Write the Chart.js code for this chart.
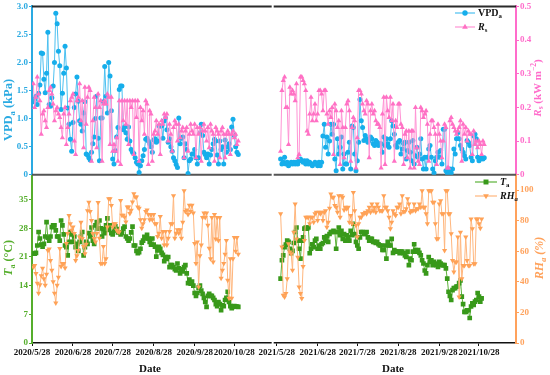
<!DOCTYPE html>
<html>
<head>
<meta charset="utf-8">
<script src="https://cdn.jsdelivr.net/npm/chart.js@4.4.1/dist/chart.umd.min.js"></script>
<style>
  html, body { margin: 0; padding: 0; background: #fff; }
  #wrap { width: 550px; height: 375px; }
</style>
</head>
<body>
<div id="wrap"><canvas id="chart" width="550" height="375"></canvas></div>
<script>
// daily values, 2020 series start on 2020/5/29, 2021 series on 2021/5/31
const first2020 = 1;     // days after 2020/5/28
const first2021 = 3;     // days after 2021/5/28
const axis2021 = 185;    // where 2021/5/28 sits on the broken date axis
const breakDay = 182;

const vpd2020 = [
  1.30, 1.35, 1.40, 1.25, 1.45, 1.60, 2.17, 2.16, 1.70, 1.46,
  1.81, 2.54, 1.25, 1.22, 1.37, 1.58, 2.00, 2.88, 2.69, 2.20,
  1.94, 1.16, 1.45, 1.81, 2.29, 1.90, 1.19, 0.90, 0.63, 0.42,
  0.93, 1.20, 1.44, 1.74, 1.31, 0.96, 0.90, 0.78, 1.10, 1.30,
  0.37, 0.35, 0.30, 0.26, 0.40, 0.55, 0.67, 1.00, 1.40, 0.65,
  0.25, 1.01, 1.01, 1.30, 1.93, 1.40, 1.10, 2.00, 1.76, 1.14,
  0.28, 0.19, 0.43, 0.67, 0.84, 1.52, 1.58, 1.58, 0.80, 0.85,
  0.75, 0.63, 0.85, 0.60, 0.45, 0.40, 0.38, 0.30, 0.22, 0.19,
  0.04, 0.16, 0.25, 0.34, 0.45, 0.63, 0.65, 0.60, 0.55, 0.50,
  0.40, 0.62, 0.64, 0.58, 0.60, 0.87, 0.87, 0.87, 0.65, 0.96,
  1.01, 0.80, 0.58, 0.64, 0.50, 0.42, 0.30, 0.25, 0.18, 0.13,
  1.01, 0.55, 0.65, 0.67, 0.30, 0.55, 0.45, 0.02, 0.25, 0.28,
  0.37, 0.37, 0.45, 0.30, 0.19, 0.30, 0.75, 0.90, 0.70, 0.40,
  0.36, 0.30, 0.37, 0.19, 0.35, 0.45, 0.55, 0.63, 0.60, 0.35,
  0.19, 0.60, 0.45, 0.50, 0.19, 0.62, 0.40, 0.50, 0.55, 0.45,
  0.85, 0.99, 0.70, 0.50, 0.40, 0.36
];
const rs2020 = [
  0.27, 0.20, 0.23, 0.29, 0.24, 0.22, 0.12, 0.18, 0.19, 0.16,
  0.14, 0.20, 0.25, 0.26, 0.24, 0.21, 0.16, 0.19, 0.20, 0.18,
  0.17, 0.14, 0.11, 0.18, 0.20, 0.09, 0.14, 0.18, 0.22, 0.23,
  0.24, 0.10, 0.06, 0.22, 0.23, 0.27, 0.16, 0.22, 0.08, 0.26,
  0.15, 0.23, 0.26, 0.25, 0.04, 0.16, 0.23, 0.20, 0.08, 0.24,
  0.20, 0.22, 0.04, 0.21, 0.22, 0.21, 0.24, 0.23, 0.09, 0.23,
  0.07, 0.09, 0.07, 0.11, 0.04, 0.22, 0.03, 0.22, 0.16, 0.22,
  0.15, 0.22, 0.09, 0.22, 0.20, 0.22, 0.06, 0.22, 0.17, 0.22,
  0.04, 0.20, 0.16, 0.19, 0.12, 0.22, 0.21, 0.03, 0.19, 0.18,
  0.04, 0.12, 0.13, 0.16, 0.12, 0.15, 0.06, 0.16, 0.15, 0.18,
  0.17, 0.18, 0.10, 0.15, 0.12, 0.07, 0.14, 0.16, 0.15, 0.10,
  0.15, 0.11, 0.13, 0.14, 0.05, 0.13, 0.14, 0.07, 0.12, 0.15,
  0.13, 0.12, 0.15, 0.05, 0.14, 0.12, 0.14, 0.04, 0.13, 0.15,
  0.13, 0.10, 0.14, 0.08, 0.15, 0.13, 0.12, 0.04, 0.14, 0.13,
  0.12, 0.05, 0.13, 0.14, 0.12, 0.05, 0.12, 0.13, 0.12, 0.06,
  0.12, 0.13, 0.11, 0.12, 0.09, 0.10
];
const ta2020 = [
  21.8, 21.8, 22.0, 23.8, 27.1, 25.5, 24.0, 23.5, 24.2, 26.0,
  29.5, 25.7, 25.0, 26.0, 28.3, 28.7, 28.7, 27.5, 26.0, 26.0,
  25.0, 29.9, 28.7, 26.5, 23.8, 23.4, 21.4, 24.7, 27.1, 26.5,
  24.7, 26.0, 23.4, 24.2, 22.5, 24.7, 26.0, 27.1, 21.4, 23.4,
  24.7, 24.2, 26.8, 26.0, 28.2, 25.0, 24.2, 28.7, 29.5, 27.9,
  29.9, 28.0, 26.0, 27.8, 26.8, 28.7, 30.4, 27.6, 28.7, 26.8,
  26.5, 27.5, 28.5, 27.8, 27.0, 27.0, 26.5, 26.9, 27.9, 28.4,
  26.0, 25.5, 25.0, 25.5, 27.0, 28.4, 23.8, 23.8, 22.5, 21.9,
  22.2, 23.0, 24.5, 25.0, 25.9, 25.5, 26.4, 25.5, 24.7, 24.0,
  25.5, 24.0, 23.5, 21.1, 22.6, 23.5, 23.0, 22.0, 21.5, 20.0,
  21.0, 20.5, 21.0, 18.5, 19.0, 19.0, 18.5, 18.0, 17.7, 19.4,
  18.2, 17.0, 18.0, 17.5, 18.5, 19.0, 17.0, 14.6, 15.5, 14.5,
  15.0, 14.0, 12.2, 11.5, 12.2, 13.5, 14.0, 12.8, 12.0, 11.0,
  10.0, 8.8, 11.5, 12.0, 11.5, 11.5, 11.0, 10.5, 9.5, 9.0,
  10.0, 9.5, 8.0, 9.2, 9.0, 10.5, 11.0, 12.5, 10.0, 9.0,
  8.5, 8.8, 9.0, 8.9, 8.9, 8.8
];
const rh2020 = [
  49.6, 50.7, 45.5, 39.0, 32.5, 38.0, 44.0, 48.8, 42.0, 37.7,
  45.0, 60.5, 61.5, 54.0, 47.5, 40.0, 32.5, 26.2, 37.7, 43.0,
  61.8, 50.0, 52.0, 52.0, 49.0, 65.0, 71.5, 83.3, 78.0, 73.7,
  75.8, 71.5, 54.0, 57.0, 60.5, 69.2, 79.0, 68.3, 63.0, 58.4,
  64.5, 86.5, 92.0, 86.0, 80.0, 71.5, 68.3, 66.0, 71.5, 91.8,
  68.5, 52.0, 52.0, 63.0, 52.0, 55.0, 75.8, 94.3, 94.3, 89.9,
  75.8, 78.0, 78.0, 73.7, 72.6, 72.6, 93.2, 83.5, 83.5, 82.4,
  79.1, 88.9, 88.9, 84.6, 86.7, 92.2, 97.6, 95.4, 95.4, 88.9,
  88.0, 80.5, 75.0, 78.0, 80.5, 86.0, 87.0, 84.0, 80.5, 84.0,
  80.5, 84.0, 78.0, 78.0, 69.6, 71.8, 82.6, 68.5, 72.8, 64.0,
  72.8, 64.0, 68.5, 72.8, 78.0, 78.0, 96.3, 68.5, 71.8, 74.0,
  71.8, 74.0, 68.5, 79.0, 99.5, 86.0, 87.0, 84.0, 90.0, 86.0,
  90.0, 85.0, 65.0, 52.0, 66.0, 36.6, 57.0, 64.0, 82.0, 85.0,
  82.0, 85.0, 77.0, 62.0, 55.0, 82.0, 53.0, 84.0, 68.0, 82.0,
  67.0, 82.0, 42.3, 47.5, 52.0, 58.0, 67.0, 41.0, 29.3, 55.0,
  29.3, 55.0, 69.0, 60.0, 69.0, 58.0
];

const vpd2021 = [
  0.28, 0.19, 0.22, 0.31, 0.19, 0.22, 0.16, 0.19, 0.22, 0.19,
  0.22, 0.19, 0.22, 0.19, 0.25, 0.28, 0.25, 0.22, 0.25, 0.19,
  0.25, 0.19, 0.22, 0.19, 0.16, 0.19, 0.22, 0.19, 0.16, 0.22,
  0.16, 0.22, 0.69, 0.90, 0.49, 0.67, 0.37, 0.60, 0.90, 0.72,
  0.90, 0.28, 0.07, 0.64, 0.37, 0.49, 0.67, 0.10, 0.37, 0.19,
  0.19, 0.40, 0.58, 0.10, 0.87, 0.84, 0.37, 0.07, 0.25, 0.58,
  1.34, 0.96, 0.84, 0.61, 0.70, 0.64, 0.58, 0.61, 0.67, 0.64,
  0.55, 0.52, 0.61, 0.58, 0.52, 0.55, 0.55, 0.40, 0.67, 0.52,
  0.64, 0.55, 0.49, 0.64, 0.96, 0.87, 0.72, 0.52, 0.49, 0.58,
  0.61, 0.37, 0.46, 0.55, 0.58, 0.28, 0.43, 0.58, 0.40, 0.25,
  0.61, 0.19, 0.34, 0.49, 0.31, 0.37, 0.64, 0.28, 0.10, 0.31,
  0.10, 0.31, 0.46, 0.52, 0.31, 0.10, 0.03, 0.25, 0.31, 0.40,
  0.31, 0.43, 0.19, 0.81, 0.81, 0.07, 0.03, 0.07, 0.10, 0.03,
  0.10, 0.46, 0.37, 0.64, 0.75, 0.64, 0.52, 0.46, 0.40, 0.34,
  0.28, 0.61, 0.58, 0.52, 0.31, 0.25, 0.69, 0.72, 0.64, 0.31,
  0.25, 0.28, 0.31, 0.28, 0.30
];
const rs2021 = [
  0.07, 0.25, 0.28, 0.29, 0.20, 0.20, 0.09, 0.26, 0.24, 0.25,
  0.24, 0.22, 0.27, 0.05, 0.06, 0.29, 0.29, 0.28, 0.27, 0.25,
  0.13, 0.12, 0.18, 0.23, 0.16, 0.18, 0.21, 0.16, 0.18, 0.25,
  0.25, 0.24, 0.19, 0.25, 0.25, 0.18, 0.15, 0.19, 0.17, 0.20,
  0.06, 0.21, 0.19, 0.14, 0.16, 0.03, 0.19, 0.14, 0.05, 0.14,
  0.21, 0.22, 0.19, 0.04, 0.14, 0.17, 0.16, 0.02, 0.11, 0.25,
  0.25, 0.24, 0.21, 0.19, 0.18, 0.22, 0.21, 0.05, 0.19, 0.21,
  0.18, 0.19, 0.16, 0.15, 0.15, 0.14, 0.02, 0.18, 0.23, 0.03,
  0.23, 0.19, 0.17, 0.23, 0.16, 0.21, 0.04, 0.16, 0.14, 0.21,
  0.21, 0.15, 0.14, 0.03, 0.12, 0.13, 0.05, 0.13, 0.02, 0.13,
  0.13, 0.02, 0.20, 0.08, 0.04, 0.03, 0.20, 0.19, 0.17, 0.18,
  0.19, 0.15, 0.04, 0.12, 0.16, 0.16, 0.14, 0.12, 0.03, 0.15,
  0.12, 0.10, 0.05, 0.10, 0.15, 0.14, 0.02, 0.02, 0.16, 0.17,
  0.15, 0.14, 0.13, 0.12, 0.13, 0.14, 0.16, 0.04, 0.15, 0.12,
  0.14, 0.10, 0.13, 0.12, 0.12, 0.06, 0.13, 0.09, 0.10, 0.08,
  0.10, 0.09, 0.06, 0.10, 0.09
];
const ta2021 = [
  15.7, 20.2, 21.4, 23.4, 24.0, 25.0, 24.7, 23.0, 21.9, 22.5,
  24.4, 27.1, 28.2, 25.0, 23.0, 20.6, 25.0, 25.8, 27.9, 28.2,
  27.9, 28.2, 21.9, 23.0, 24.1, 23.4, 25.0, 25.4, 23.0, 23.8,
  23.0, 24.1, 24.4, 25.8, 25.0, 26.1, 24.7, 26.6, 27.1, 27.1,
  27.4, 27.1, 23.0, 27.1, 28.2, 26.3, 27.4, 25.4, 26.6, 25.0,
  26.3, 25.8, 25.0, 27.4, 26.3, 29.1, 26.6, 24.7, 23.8, 23.0,
  25.8, 27.1, 27.1, 26.6, 26.6, 27.1, 25.8, 25.0, 25.4, 25.4,
  24.7, 24.7, 24.4, 24.7, 24.1, 23.8, 23.8, 22.7, 22.7, 23.8,
  20.6, 24.7, 23.8, 23.8, 25.4, 22.0, 22.7, 22.3, 22.3, 22.3,
  21.9, 22.3, 22.3, 21.9, 21.4, 21.0, 22.3, 19.0, 20.6, 20.2,
  22.3, 24.1, 22.7, 22.3, 22.7, 22.0, 21.4, 20.2, 19.4, 17.7,
  17.0, 19.0, 21.0, 19.8, 20.2, 19.0, 19.8, 19.4, 19.0, 18.6,
  19.8, 19.4, 19.0, 19.0, 19.0, 18.2, 15.7, 12.5, 11.5, 10.5,
  12.9, 13.4, 13.4, 13.8, 13.8, 14.6, 15.3, 11.3, 9.5, 7.6,
  7.6, 8.0, 8.0, 6.1, 8.9, 9.7, 9.3, 10.1, 10.5, 12.2,
  11.3, 10.1, 10.9
];
const rh2021 = [
  84.4, 62.7, 31.2, 30.0, 32.3, 42.0, 64.9, 59.4, 58.4, 47.5,
  72.4, 90.9, 68.0, 56.0, 36.6, 32.3, 29.1, 50.0, 67.0, 82.2,
  82.2, 82.2, 78.0, 82.2, 82.2, 79.0, 84.4, 85.5, 80.0, 85.5,
  84.4, 85.5, 80.0, 85.5, 86.5, 75.7, 79.0, 88.0, 97.4, 95.3,
  95.3, 89.9, 88.8, 85.5, 96.3, 82.2, 96.3, 95.3, 87.0, 88.8,
  87.7, 88.8, 79.0, 83.3, 78.0, 98.4, 86.5, 76.8, 69.2, 77.9,
  82.2, 82.2, 84.4, 84.4, 85.5, 84.4, 86.5, 88.8, 85.5, 90.9,
  86.5, 88.8, 85.5, 90.9, 88.8, 86.5, 86.5, 86.5, 96.3, 88.8,
  88.8, 86.5, 82.2, 74.6, 79.0, 86.5, 84.4, 83.3, 88.7, 88.7,
  90.9, 84.4, 96.3, 86.0, 86.0, 87.7, 94.2, 90.9, 85.5, 86.5,
  86.5, 90.9, 86.5, 87.7, 87.7, 90.9, 88.8, 99.5, 88.8, 88.8,
  84.4, 77.9, 99.5, 99.5, 99.5, 92.0, 92.0, 77.9, 68.1, 68.1,
  90.9, 93.0, 84.4, 84.4, 60.5, 99.5, 99.5, 84.4, 84.4, 71.4,
  54.0, 46.4, 52.9, 52.9, 69.2, 30.0, 72.4, 42.0, 50.7, 50.7,
  69.2, 54.0, 50.7, 50.7, 81.1, 74.6, 51.8, 51.8, 81.1, 81.1,
  78.0, 75.0, 81.0
];

const xTickDays = [0, 31, 61, 92, 123, 153, 185, 216, 246, 277, 308, 338];
const xTickLabels = ['2020/5/28', '2020/6/28', '2020/7/28', '2020/8/28', '2020/9/28', '2020/10/28',
                     '2021/5/28', '2021/6/28', '2021/7/28', '2021/8/28', '2021/9/28', '2021/10/28'];
const taTicks = [0, 7, 14, 21, 28, 35];
const rhTicks = [0, 20, 40, 60, 80, 100];

const colors = {
    vpd: '#16AEEB', vpdLine: '#4CC0F0',
    rs: '#FF70C4', rsLine: '#FF93D4',
    ta: '#38991A', taLine: '#5DB23A',
    rh: '#FFA257', rhLine: '#FFB67D',
    vpdAxis: '#2AAAE2',
    rsAxis: '#FF6CCB',
    taAxis: '#55AE2C',
    rhAxis: '#FFA25C',
};
const serif = "'Liberation Serif', 'Times New Roman', serif";

// one dataset per variable, null point breaks the line across the gap
function toSeries(v2020, v2021) {
    const pts = v2020.map((v, i) => ({ x: first2020 + i, y: v }));
    pts.push({ x: breakDay, y: null });
    v2021.forEach((v, i) => pts.push({ x: axis2021 + first2021 + i, y: v }));
    return pts;
}

function yAxis(position, stack, color, min, max, extra) {
    return Object.assign({
        type: 'linear',
        position: position,
        stack: stack,
        stackWeight: 1,
        min: min,
        max: max,
        border: { display: true, color: color, width: 2 },
        grid: { drawOnChartArea: false, drawTicks: true, tickLength: 3, color: color, lineWidth: 1 },
        ticks: { color: color, font: { family: serif, size: 9, weight: 'bold' }, padding: 1 },
        afterFit: (scale) => { scale.width = position === 'left' ? 32 : 34; },
    }, extra);
}

// rich text with italic / subscript / superscript pieces
function drawRich(ctx, parts, x, y, size, color, rotate, align) {
    ctx.save();
    ctx.translate(x, y);
    if (rotate) ctx.rotate(rotate);
    ctx.fillStyle = color;
    ctx.textBaseline = 'middle';
    ctx.textAlign = 'left';
    const fontFor = (p) => {
        const s = (p.sub || p.sup) ? size * 0.68 : size;
        return (p.italic ? 'italic ' : '') + 'bold ' + s + 'px ' + serif;
    };
    let total = 0;
    parts.forEach(p => { ctx.font = fontFor(p); total += ctx.measureText(p.t).width; });
    let cx = align === 'left' ? 0 : -total / 2;
    parts.forEach(p => {
        ctx.font = fontFor(p);
        const dy = p.sub ? size * 0.3 : (p.sup ? -size * 0.35 : 0);
        ctx.fillText(p.t, cx, dy);
        cx += ctx.measureText(p.t).width;
    });
    ctx.restore();
}

function drawMarker(ctx, style, x, y, r, color) {
    ctx.save();
    ctx.fillStyle = color;
    ctx.beginPath();
    if (style === 'circle') {
        ctx.arc(x, y, r, 0, Math.PI * 2);
    } else if (style === 'rect') {
        const s = r * Math.SQRT1_2;
        ctx.rect(x - s, y - s, 2 * s, 2 * s);
    } else if (style === 'triangle' || style === 'triangleDown') {
        const d = style === 'triangle' ? 1 : -1;
        ctx.moveTo(x, y - d * r);
        ctx.lineTo(x + r * 0.866, y + d * r * 0.5);
        ctx.lineTo(x - r * 0.866, y + d * r * 0.5);
        ctx.closePath();
    }
    ctx.fill();
    ctx.restore();
}

const legendItems = [
    { color: colors.vpd, line: colors.vpdLine, marker: 'circle', r: 2.7, x1: 455, x2: 475, y: 13, tx: 478, parts: [{ t: 'VPD' }, { t: 'a', sub: true }] },
    { color: colors.rs, line: colors.rsLine, marker: 'triangle', r: 3.3, x1: 455, x2: 475, y: 27, tx: 478, parts: [{ t: 'R', italic: true }, { t: 's', sub: true }] },
    { color: colors.ta, line: colors.taLine, marker: 'rect', r: 3.5, x1: 475, x2: 497, y: 182, tx: 500, parts: [{ t: 'T', italic: true }, { t: 'a', sub: true }] },
    { color: colors.rh, line: colors.rhLine, marker: 'triangleDown', r: 3.3, x1: 475, x2: 497, y: 196, tx: 500, parts: [{ t: 'RH', italic: true }, { t: 'a', sub: true, italic: true }] },
];

const framePlugin = {
    id: 'frame',
    beforeDatasetsDraw(chart) {
        const { ctx, chartArea, scales } = chart;
        const top = scales.yVPD.top;
        const mid = scales.yVPD.bottom;
        ctx.save();
        ctx.strokeStyle = '#2a2a2a';
        ctx.lineWidth = 2;
        ctx.beginPath();
        ctx.moveTo(chartArea.left, top);
        ctx.lineTo(chartArea.right, top);
        ctx.stroke();
        ctx.strokeStyle = '#555';
        ctx.beginPath();
        ctx.moveTo(chartArea.left, mid);
        ctx.lineTo(chartArea.right, mid);
        ctx.stroke();
        // axis break
        const bx = scales.x.getPixelForValue(breakDay);
        ctx.fillStyle = '#fff';
        [top, mid, scales.x.top].forEach(y => ctx.fillRect(bx - 1, y - 2, 2, 4));
        ctx.restore();
    },
    afterDraw(chart) {
        const { ctx } = chart;
        // axis titles
        drawRich(ctx, [{ t: 'VPD' }, { t: 'a', sub: true }, { t: ' (kPa)' }], 9, 110, 12.5, colors.vpdAxis, -Math.PI / 2);
        drawRich(ctx, [{ t: 'R', italic: true }, { t: 's', sub: true }, { t: ' (kW m' }, { t: '−2', sup: true }, { t: ')' }], 538, 88, 11, colors.rsAxis, -Math.PI / 2);
        drawRich(ctx, [{ t: 'T', italic: true }, { t: 'a', sub: true }, { t: ' (°C)' }], 9, 258, 12, colors.taAxis, -Math.PI / 2);
        drawRich(ctx, [{ t: 'RH', italic: true }, { t: 'a', sub: true, italic: true }, { t: ' (%)', italic: true }], 540, 258, 12, colors.rhAxis, -Math.PI / 2);
        drawRich(ctx, [{ t: 'Date' }], 150, 369, 11, '#111');
        drawRich(ctx, [{ t: 'Date' }], 393, 369, 11, '#111');
        // legends
        legendItems.forEach(it => {
            ctx.save();
            ctx.strokeStyle = it.line;
            ctx.lineWidth = 1.2;
            ctx.beginPath();
            ctx.moveTo(it.x1, it.y);
            ctx.lineTo(it.x2, it.y);
            ctx.stroke();
            ctx.restore();
            drawMarker(ctx, it.marker, (it.x1 + it.x2) / 2, it.y, it.r, it.color);
            drawRich(ctx, it.parts, it.tx, it.y, 10, '#111', 0, 'left');
        });
    }
};

const lineStyle = (line, color, style, radius, rotation) => ({
    borderColor: line,
    backgroundColor: color,
    borderWidth: 1,
    pointStyle: style,
    pointRadius: radius,
    pointRotation: rotation || 0,
    pointBorderWidth: 0,
    pointBackgroundColor: color,
    tension: 0,
    spanGaps: false,
});

new Chart(document.getElementById('chart'), {
    type: 'line',
    data: {
        datasets: [
            Object.assign({ label: 'Rs', data: toSeries(rs2020, rs2021), yAxisID: 'yRs' }, lineStyle(colors.rsLine, colors.rs, 'triangle', 3.0)),
            Object.assign({ label: 'VPDa', data: toSeries(vpd2020, vpd2021), yAxisID: 'yVPD' }, lineStyle(colors.vpdLine, colors.vpd, 'circle', 2.5)),
            Object.assign({ label: 'RHa', data: toSeries(rh2020, rh2021), yAxisID: 'yRH' }, lineStyle(colors.rhLine, colors.rh, 'triangle', 3.0, 180)),
            Object.assign({ label: 'Ta', data: toSeries(ta2020, ta2021), yAxisID: 'yT' }, lineStyle(colors.taLine, colors.ta, 'rect', 3.3)),
        ],
    },
    options: {
        responsive: false,
        animation: false,
        layout: { padding: { top: 5, left: 0, right: 0, bottom: 0 } },
        plugins: { legend: { display: false }, tooltip: { enabled: false } },
        scales: {
            x: {
                type: 'linear',
                position: 'bottom',
                min: 0,
                max: 366,
                border: { display: true, color: '#111', width: 1.5 },
                grid: { drawOnChartArea: false, drawTicks: true, tickLength: 3, color: '#111' },
                afterBuildTicks: (scale) => { scale.ticks = xTickDays.map(v => ({ value: v })); },
                ticks: {
                    autoSkip: false, maxRotation: 0, minRotation: 0, padding: 1, color: '#111',
                    font: { family: serif, size: 9, weight: 'bold' },
                    callback: (value, index) => xTickLabels[index],
                },
                afterFit: (scale) => { scale.height = 32; },
            },
            yT: yAxis('left', 'left', colors.taAxis, 0, 41.08, {
                afterBuildTicks: (scale) => { scale.ticks = taTicks.map(v => ({ value: v })); },
            }),
            yVPD: yAxis('left', 'left', colors.vpdAxis, 0, 3.0, {}),
            yRs: yAxis('right', 'right', colors.rsAxis, 0, 0.5, {}),
            yRH: yAxis('right', 'right', colors.rhAxis, 0, 110, {
                afterBuildTicks: (scale) => { scale.ticks = rhTicks.map(v => ({ value: v })); },
            }),
        },
    },
    plugins: [framePlugin],
});
</script>
</body>
</html>
